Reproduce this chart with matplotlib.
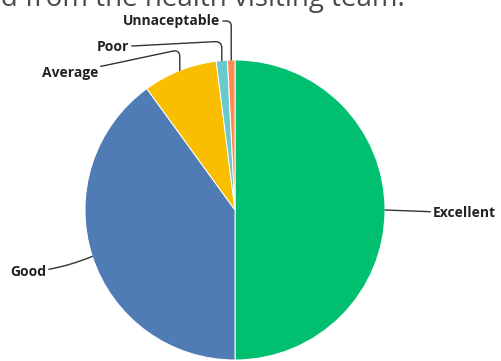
import matplotlib
matplotlib.use("Agg")
import numpy as np
import matplotlib.pyplot as plt

# ── Survey answers (share of respondents, %) ────────────────────────
categories = ["Excellent", "Good", "Average", "Poor", "Unnaceptable"]
shares = [50.0, 40.0, 8.0, 1.2, 0.8]
colors = ["#00BF6F", "#507CB6", "#F9BE00", "#6BC8CD", "#FF8B4F"]

title = "service received from the health visiting team."

W, H = 502, 361
fig = plt.figure(figsize=(W / 100, H / 100), dpi=100)
ax = fig.add_axes([0, 0, 1, 1])

cx, cy, R = 235, 151, 150
wedges, _ = ax.pie(shares, colors=colors, startangle=90, counterclock=False,
                   radius=R, center=(cx, cy), frame=True,
                   wedgeprops=dict(edgecolor="white", linewidth=0.7))
ax.set_xlim(0, W)
ax.set_ylim(0, H)
ax.set_aspect("equal")
ax.axis("off")

# label anchor, text alignment and leader style for each slice
label_pos = {
    "Excellent":    ((433, 148), "left",  "arc3,rad=0"),
    "Good":         ((46, 89),   "right", "arc3,rad=0.08"),
    "Average":      ((98, 288),  "right", "angle,angleA=12,angleB=90,rad=7"),
    "Poor":         ((129, 314), "right", "angle,angleA=3,angleB=90,rad=7"),
    "Unnaceptable": ((220, 340), "right", "angle,angleA=0,angleB=90,rad=5"),
}

for w, name in zip(wedges, categories):
    mid = np.deg2rad((w.theta1 + w.theta2) / 2)
    edge = (cx + R * np.cos(mid), cy + R * np.sin(mid))
    (tx, ty), ha, conn = label_pos[name]
    ax.annotate(name, xy=edge, xytext=(tx, ty), ha=ha, va="center",
                fontsize=10, fontweight="bold", family="Open Sans", color="#222222",
                arrowprops=dict(arrowstyle="-", color="#333333", lw=1.0,
                                shrinkA=0, shrinkB=0, connectionstyle=conn))

fig.text(405 / W, 1 - 6 / H, title, ha="right", va="baseline",
         fontsize=20, family="Open Sans", color="#4a4a4a")

fig.savefig("out.png", dpi=100)
